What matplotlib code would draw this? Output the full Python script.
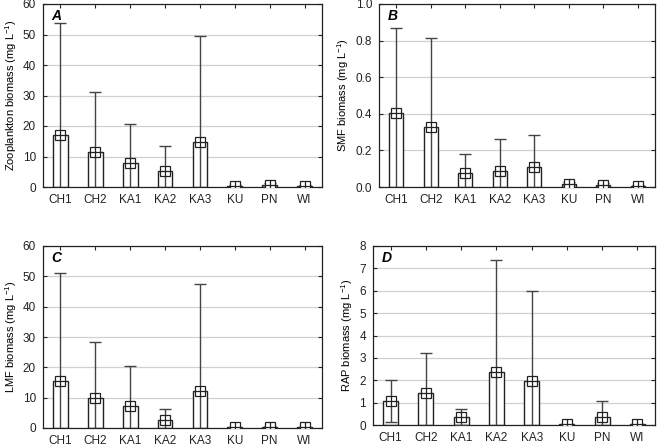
import matplotlib
matplotlib.use("Agg")
import matplotlib.pyplot as plt
import numpy as np

plt.rcParams['font.family'] = ['Liberation Sans', 'DejaVu Sans']
plt.rcParams['mathtext.fontset'] = 'custom'
plt.rcParams['mathtext.rm'] = 'Liberation Sans'
plt.rcParams['mathtext.default'] = 'regular'

sites = ["CH1", "CH2", "KA1", "KA2", "KA3", "KU", "PN", "WI"]

# means and upper error (mean + SD)
zoo_mean = [17.2, 11.5, 7.9, 5.3, 14.6, 0.3, 0.6, 0.3]
zoo_upper = [53.9, 31.2, 20.8, 13.5, 49.5, 0.5, 1.2, 0.5]

smf_mean = [0.407, 0.327, 0.078, 0.088, 0.107, 0.018, 0.012, 0.007]
smf_upper = [0.870, 0.816, 0.178, 0.260, 0.283, 0.026, 0.020, 0.012]

lmf_mean = [15.5, 9.8, 7.4, 2.7, 12.3, 0.2, 0.3, 0.2]
lmf_upper = [51.1, 28.4, 20.5, 6.4, 47.6, 0.3, 0.5, 0.3]

rap_mean = [1.07, 1.44, 0.36, 2.36, 1.98, 0.03, 0.37, 0.03]
rap_upper = [2.00, 3.20, 0.70, 7.37, 5.99, 0.05, 1.07, 0.05]

panels = [
    ("A", "Zooplankton biomass (mg L$^{-1}$)", zoo_mean, zoo_upper, (0, 60), np.arange(0, 61, 10), "{:.0f}",
     [43/657, 1-187/446, 279/657, 183/446]),
    ("B", "SMF biomass (mg L$^{-1}$)", smf_mean, smf_upper, (0, 1.0), np.arange(0, 1.01, 0.2), "{:.1f}",
     [379/657, 1-187/446, 276/657, 183/446]),
    ("C", "LMF biomass (mg L$^{-1}$)", lmf_mean, lmf_upper, (0, 60), np.arange(0, 61, 10), "{:.0f}",
     [43/657, 1-428/446, 279/657, 182/446]),
    ("D", "RAP biomass (mg L$^{-1}$)", rap_mean, rap_upper, (0, 8), np.arange(0, 9, 1), "{:.0f}",
     [373/657, 1-425/446, 282/657, 179/446]),
]

fig = plt.figure(figsize=(6.57, 4.46), dpi=100)
x = np.arange(len(sites))

for letter, ylabel, mean, upper, ylim, yticks, fmt, rect in panels:
    ax = fig.add_axes(rect)
    mean = np.array(mean)
    sd = np.array(upper) - mean
    ax.set_axisbelow(True)
    ax.grid(axis="y", color="#d0d0d0", linewidth=0.9)
    ax.bar(x, mean, width=0.42, facecolor="white", edgecolor="#222222", linewidth=1.0, zorder=2)
    ax.errorbar(x, mean, yerr=sd, fmt="none", ecolor="#444444", elinewidth=1.0,
                capsize=4, capthick=1.0, zorder=3)
    ax.plot(x, mean, linestyle="none", marker="s", markersize=7, markerfacecolor="white",
            markeredgecolor="#222222", markeredgewidth=0.9, zorder=4)
    ax.plot(x, mean, linestyle="none", marker="+", markersize=7, markeredgecolor="#222222",
            markeredgewidth=0.9, zorder=5)
    ax.set_xlim(-0.5, len(sites) - 0.5)
    ax.set_ylim(*ylim)
    ax.set_yticks(yticks)
    ax.set_yticklabels([fmt.format(v) for v in yticks])
    ax.set_xticks(x)
    ax.set_xticklabels(sites)
    ax.tick_params(direction="in", top=True, right=True, length=3, width=0.8,
                   labelsize=8.5, colors="#222222", pad=5)
    for s in ax.spines.values():
        s.set_color("#222222")
        s.set_linewidth(0.9)
    ax.set_ylabel(ylabel, fontsize=8, labelpad=3)
    ax.text(0.03, 0.97, letter, transform=ax.transAxes, fontsize=10, fontweight="bold",
            fontstyle="italic", va="top", ha="left")

fig.savefig("out.png", dpi=100)
